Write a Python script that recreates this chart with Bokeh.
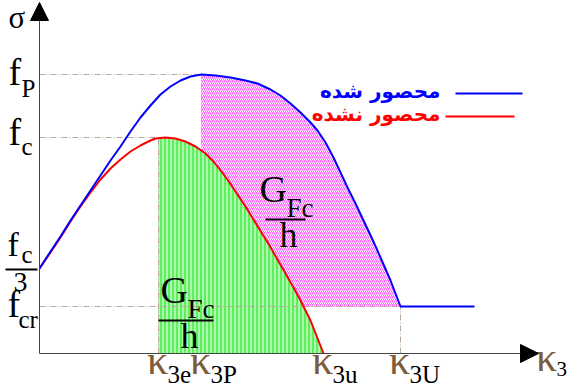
import numpy as np
from bokeh.plotting import figure
from bokeh.models import Range1d, Arrow, NormalHead
from bokeh.core.properties import value
from bokeh.embed import file_html
from bokeh.resources import INLINE

# characteristic stresses on the σ axis
f_P = 2.79
f_c = 2.16
f_c3 = 0.85      # fc / 3
f_cr = 0.47

# characteristic points on the κ3 axis
k3e = 1.19
k3P = 1.62
k3u = 2.84
k3U = 3.61
k3_end = 4.35
k3_axis = 4.99
s_axis = 3.51

# confined concrete curve (blue)
conf_x = [0.00, 0.11, 0.21, 0.31, 0.41, 0.51, 0.61, 0.71, 0.81, 0.91, 1.01,
          1.11, 1.21, 1.31, 1.41, 1.51, 1.62, 1.76, 1.91, 2.06, 2.18, 2.31,
          2.41, 2.51, 2.61, 2.71, 2.78, 2.86, 2.94, 3.01, 3.08, 3.16, 3.24,
          3.33, 3.41, 3.51, 3.61, 4.35]
conf_y = [0.85, 1.02, 1.17, 1.33, 1.48, 1.63, 1.78, 1.93, 2.07, 2.22, 2.36,
          2.48, 2.59, 2.67, 2.73, 2.77, 2.79, 2.78, 2.76, 2.73, 2.70, 2.64,
          2.58, 2.50, 2.41, 2.31, 2.23, 2.11, 1.96, 1.81, 1.66, 1.50, 1.33,
          1.14, 0.96, 0.73, 0.47, 0.47]

# unconfined concrete curve (red)
unconf_x = [0.00, 0.11, 0.21, 0.31, 0.41, 0.51, 0.61, 0.71, 0.81, 0.91, 1.01,
            1.11, 1.16, 1.26, 1.36, 1.46, 1.56, 1.66, 1.74, 1.82, 1.90, 1.98,
            2.06, 2.14, 2.22, 2.30, 2.38, 2.46, 2.54, 2.61, 2.71, 2.84]
unconf_y = [0.85, 1.01, 1.16, 1.32, 1.47, 1.61, 1.74, 1.85, 1.94, 2.02, 2.08,
            2.13, 2.15, 2.16, 2.15, 2.12, 2.07, 2.00, 1.92, 1.82, 1.71, 1.59,
            1.47, 1.34, 1.21, 1.08, 0.94, 0.80, 0.66, 0.53, 0.33, 0.00]

legend_labels = ["محصور شده", "محصور نشده"]
legend_colors = ["#0000ff", "#ff0000"]

SERIF = "Liberation Serif"
KAPPA_COLOR = "#7d5c3b"
REF_COLOR = "#b9aa9a"

p = figure(width=570, height=392, output_backend="svg", toolbar_location=None,
           x_range=Range1d(-0.39, 5.31), y_range=Range1d(-0.39, 3.53),
           x_axis_type=None, y_axis_type=None, min_border=0)
p.grid.visible = False
p.outline_line_color = None
p.background_fill_color = "white"


def sx(px):
    """pixel column -> data x"""
    return (px - 39) / 100.0


def sy(py):
    """pixel row -> data y"""
    return (353 - py) / 100.0


def txt(x, y, s, size, dx=0, dy=0, color="black", align="left",
        font=SERIF, style="normal"):
    # dy is the wanted baseline offset in pixels; the renderer sits
    # alphabetic text a little low, so lift it by a fraction of the em
    p.text(x=[x], y=[y], text=[s], x_offset=dx, y_offset=dy - 0.36 * size,
           text_font=value(font), text_font_size=f"{size}px",
           text_color=color, text_align=align, text_baseline="alphabetic",
           text_font_style=style)


# shaded energy areas
gx = np.linspace(k3e, k3u, 300)
gy = np.interp(gx, unconf_x, unconf_y)
p.varea(x=gx, y1=np.zeros_like(gx), y2=gy, fill_color="#5cf05c",
        hatch_pattern="vertical_line", hatch_color="white",
        hatch_scale=4, hatch_weight=1)

qx = np.linspace(k3P, k3U, 300)
q_top = np.interp(qx, conf_x, conf_y)
q_bot = np.maximum(np.interp(qx, unconf_x, unconf_y), f_cr)
p.varea(x=qx, y1=q_bot, y2=q_top, fill_color="#ff5cff",
        hatch_pattern="right_diagonal_line", hatch_color="white",
        hatch_scale=4, hatch_weight=1)

# reference lines
ref = dict(line_color=REF_COLOR, line_width=1, line_dash="6 2 1 2")
p.segment(x0=[0, 0, 0], y0=[f_P, f_c, f_cr], x1=[k3P, k3e, k3U],
          y1=[f_P, f_c, f_cr], **ref)
p.segment(x0=[k3e, k3P, k3U], y0=[0, 0, 0], x1=[k3e, k3P, k3U],
          y1=[f_c, f_P, f_cr], **ref)

# stress-strain curves
p.line(unconf_x, unconf_y, line_color="#ff0000", line_width=2)
p.line(conf_x, conf_y, line_color="#0000ff", line_width=2)

# axes with arrow heads
p.add_layout(Arrow(end=NormalHead(size=18, fill_color="black", line_color="black"),
                   x_start=0, y_start=0, x_end=k3_axis, y_end=0,
                   line_color="#444444", line_width=1))
p.add_layout(Arrow(end=NormalHead(size=18, fill_color="black", line_color="black"),
                   x_start=0, y_start=0, x_end=0, y_end=s_axis,
                   line_color="#444444", line_width=1))

# σ axis labels
txt(0, s_axis, "σ", 31, dx=-31, dy=26)
txt(0, f_P, "f", 38, dx=-31, dy=11)
txt(0, f_P, "P", 25, dx=-18, dy=23)
txt(0, f_c, "f", 38, dx=-31, dy=8)
txt(0, f_c, "c", 25, dx=-18, dy=18)
txt(0, f_c3, "f", 34, dx=-32, dy=-12)
txt(0, f_c3, "c", 25, dx=-18, dy=-5)
p.segment(x0=[sx(5)], y0=[f_c3 - 0.01], x1=[sx(37)], y1=[f_c3 - 0.01],
          line_color="black", line_width=2)
txt(0, f_c3, "3", 28, dx=-26, dy=24)
txt(0, f_cr, "f", 38, dx=-32, dy=11)
txt(0, f_cr, "cr", 25, dx=-21, dy=22)

# κ3 axis labels
for xv, sub in [(k3e, "3e"), (k3P, "3P"), (k3u, "3u"), (k3U, "3U")]:
    txt(xv, 0, "κ", 42, dx=-1, dy=22, color=KAPPA_COLOR, align="center")
    txt(xv, 0, sub, 25, dx=9, dy=30)
txt(k3_axis, 0, "κ", 42, dx=8, dy=19, color=KAPPA_COLOR, align="center")
txt(k3_axis, 0, "3", 21, dx=18, dy=23)


# G_Fc / h labels inside the shaded areas
def gfc(x, y, dx, dy):
    txt(x, y, "G", 38, dx=dx, dy=dy)
    txt(x, y, "Fc", 27, dx=dx + 27, dy=dy + 15)
    txt(x, y, "h", 36, dx=dx + 20, dy=dy + 45)


gfc(k3e, 0, 2, -50)
p.segment(x0=[k3e], y0=[sy(320)], x1=[k3e + 0.55], y1=[sy(320)],
          line_color="black", line_width=2)
gfc(k3P, f_cr, 58, -104)
p.segment(x0=[sx(265)], y0=[sy(219)], x1=[sx(305)], y1=[sy(219)],
          line_color="black", line_width=2)

# legend
for i, (lab, col) in enumerate(zip(legend_labels, legend_colors)):
    ly = sy(93 + 23 * i)
    txt(sx(440), ly, lab, 20, dy=5, color=col, align="right",
        font="DejaVu Sans", style="bold")
    p.segment(x0=[sx(455 - 10 * i)], y0=[ly], x1=[sx(522 - 8 * i)], y1=[ly],
              line_color=col, line_width=2)

open("out.html", "w").write(file_html(p, INLINE))
